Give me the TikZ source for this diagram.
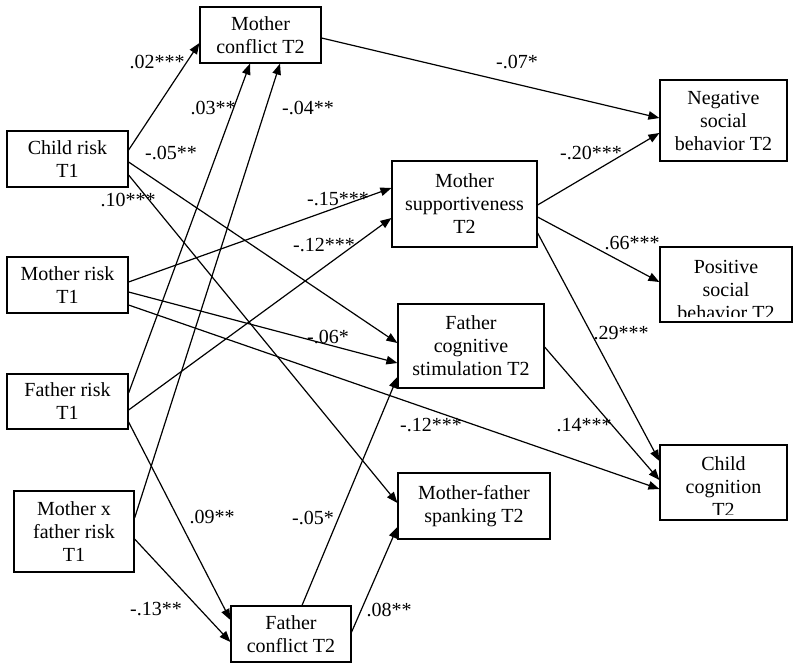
\documentclass[tikz,border=0pt]{standalone}
\usepackage{fontspec}
\setmainfont{Liberation Serif}
\usetikzlibrary{arrows.meta}
\begin{document}
\begin{tikzpicture}[x=1pt,y=-1pt,
  box/.style={draw, line width=1.2pt, inner sep=0pt, align=center,
    font=\fontsize{20}{23}\selectfont},
  txt/.style={inner sep=0pt, align=center, font=\fontsize{20}{23}\selectfont},
  lbl/.style={inner sep=0pt, font=\fontsize{20}{23}\selectfont},
  arr/.style={line width=1.2pt, -{Triangle[length=11pt,width=8.5pt]}}]
\useasboundingbox[fill=white] (0,0) rectangle (800,670);

% boxes
\node[box, minimum width=121pt, minimum height=56pt] (mc) at (260.5,35) {Mother\\conflict T2};
\node[box, minimum width=121pt, minimum height=56pt] (cr) at (67.5,159) {Child risk\\T1};
\node[box, minimum width=121pt, minimum height=56pt] (mr) at (67.5,285) {Mother risk\\T1};
\node[box, minimum width=121pt, minimum height=55pt] (fr) at (67.5,401.5) {Father risk\\T1};
\node[box, minimum width=120pt, minimum height=81pt] (mxf) at (74,531.5) {Mother x\\father risk\\T1};
\node[box, minimum width=120pt, minimum height=56pt] (fc) at (291,634) {Father\\conflict T2};
\node[box, minimum width=145pt, minimum height=86pt] (ms) at (464.5,204) {Mother\\supportiveness\\T2};
\node[box, minimum width=146pt, minimum height=84pt] (fcs) at (471,346) {Father\\cognitive\\stimulation T2};
\node[box, minimum width=152pt, minimum height=66pt] (sp) at (474,506) {Mother-father\\spanking T2};
\node[box, minimum width=127pt, minimum height=81pt] (ns) at (723.5,120.5) {Negative\\social\\behavior T2};
\node[box, minimum width=132pt, minimum height=75pt,
  path picture={\clip ([yshift=6pt]path picture bounding box.south west) rectangle (path picture bounding box.north east);
    \node[txt] (pstext) at ([yshift=-5pt]path picture bounding box.center) {Positive\\social\\behavior T2};}] (ps) at (726,284.5) {};
\node[box, minimum width=127pt, minimum height=75pt,
  path picture={\clip ([yshift=6pt]path picture bounding box.south west) rectangle (path picture bounding box.north east);
    \node[txt] (cctext) at ([yshift=-4pt]path picture bounding box.center) {Child\\cognition\\T2};}] (cc) at (723.5,482.5) {};

% connectors
\draw[arr] ([yshift=9pt]cr.east) -- ([yshift=-8pt]mc.west);
\draw[arr] ([yshift=-3pt]mc.east) -- ([yshift=2.5pt]ns.west);
\draw[arr] ([yshift=-1pt]ms.east) -- ([yshift=-12.5pt]ns.west);
\draw[arr] ([yshift=-13pt]ms.east) -- ([yshift=2.5pt]ps.west);
\draw[arr] ([yshift=-29pt]ms.east) -- ([yshift=21.5pt]cc.west);
\draw[arr] ([yshift=-1pt]fcs.east) -- ([yshift=2.5pt]cc.west);
\draw[arr] ([yshift=-20pt]mr.east) -- ([yshift=-6.5pt]cc.west);
\draw[arr] ([yshift=3pt]mr.east) -- ([yshift=16pt]ms.west);
\draw[arr] ([yshift=-7pt]mr.east) -- ([yshift=-17pt]fcs.west);
\draw[arr] ([yshift=-8.5pt]fr.east) -- ([yshift=-14pt]ms.west);
\draw[arr] ([yshift=8.5pt]fr.east) -- ([xshift=-10.5pt]mc.south);
\draw[arr] ([yshift=13.5pt]mxf.east) -- ([xshift=19.5pt]mc.south);
\draw[arr] ([yshift=-3pt]cr.east) -- ([yshift=3pt]fcs.west);
\draw[arr] ([yshift=-16pt]cr.east) -- ([yshift=3pt]sp.west);
\draw[arr] ([yshift=-20.5pt]fr.east) -- ([yshift=14pt]fc.west);
\draw[arr] ([yshift=-7.5pt]mxf.east) -- ([yshift=-8pt]fc.west);
\draw[arr] ([xshift=11pt]fc.north) -- ([yshift=-31pt]fcs.west);
\draw[arr] ([yshift=2pt]fc.east) -- ([yshift=-21pt]sp.west);

% labels
\node[lbl] (l1) at (157,62) {.02***};
\node[lbl] (l2) at (517,62) {-.07*};
\node[lbl] (l3) at (591,153) {-.20***};
\node[lbl] (l4) at (632,243) {.66***};
\node[lbl] (l5) at (621,333) {.29***};
\node[lbl] (l6) at (584,425) {.14***};
\node[lbl] (l7) at (431,425) {-.12***};
\node[lbl] (l8) at (338,199) {-.15***};
\node[lbl] (l9) at (324,245) {-.12***};
\node[lbl] (l10) at (328,337) {-.06*};
\node[lbl] (l11) at (213,108) {.03**};
\node[lbl] (l12) at (308,108) {-.04**};
\node[lbl] (l13) at (171,153) {-.05**};
\node[lbl] (l14) at (128,200) {.10***};
\node[lbl] (l15) at (212,517) {.09**};
\node[lbl] (l16) at (156,609) {-.13**};
\node[lbl] (l17) at (313,518) {-.05*};
\node[lbl] (l18) at (389,610) {.08**};
\end{tikzpicture}
\end{document}
